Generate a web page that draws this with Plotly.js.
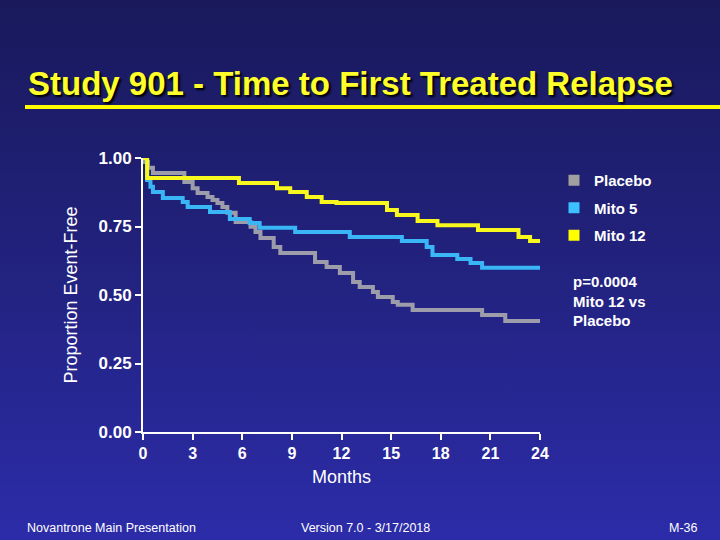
<!DOCTYPE html>
<html>
<head>
<meta charset="utf-8">
<script src="https://cdn.plot.ly/plotly-3.0.1.min.js"></script>
<style>
  html, body { margin: 0; padding: 0; width: 720px; height: 540px; overflow: hidden;
    background: linear-gradient(to bottom, #19195c 0%, #22227f 50%, #2c2ca9 100%); }
  #chart { width: 720px; height: 540px; }
</style>
</head>
<body>
<div id="chart"></div>
<script>
// ---- Data ----
const seriesNames = ["Placebo", "Mito 5", "Mito 12"];
const seriesColors = ["#9c9cab", "#3ab6f7", "#f8f81e"];
const legendColors = ["#a0a0a0", "#3cc0ff", "#ffff00"];

const monthsPlacebo = [0, 0.06, 0.3, 0.6, 2.5, 3.0, 3.3, 3.9, 4.2, 4.5, 4.8, 5.1, 5.6, 6.5, 6.8, 7.1, 7.9, 8.3, 10.4, 11.1, 11.9, 12.7, 13.1, 13.9, 14.2, 15.1, 15.4, 16.3, 20.5, 21.9, 24];
const placebo = [1.0, 0.985, 0.964, 0.945, 0.912, 0.89, 0.872, 0.858, 0.847, 0.836, 0.821, 0.80, 0.766, 0.749, 0.73, 0.708, 0.675, 0.653, 0.62, 0.602, 0.58, 0.547, 0.529, 0.511, 0.493, 0.474, 0.464, 0.445, 0.427, 0.405, 0.405];

const monthsMito5 = [0, 0.25, 0.45, 0.6, 1.2, 2.4, 2.7, 4.05, 5.25, 6.45, 7.05, 9.2, 12.5, 15.65, 17.15, 17.5, 19.0, 19.8, 20.5, 24];
const mito5 = [1.0, 0.92, 0.895, 0.876, 0.854, 0.839, 0.821, 0.803, 0.777, 0.763, 0.745, 0.73, 0.712, 0.697, 0.675, 0.646, 0.631, 0.617, 0.599, 0.599];

const monthsMito12 = [0, 0.25, 5.8, 8.1, 8.9, 9.9, 10.8, 11.7, 14.75, 15.35, 16.6, 17.8, 20.25, 22.7, 23.4, 24];
const mito12 = [1.0, 0.927, 0.909, 0.89, 0.876, 0.858, 0.839, 0.836, 0.81, 0.792, 0.77, 0.755, 0.737, 0.712, 0.697, 0.697];

const xTickVals = [0, 3, 6, 9, 12, 15, 18, 21, 24];
const yTickVals = [0, 0.25, 0.5, 0.75, 1.0];
const yTickText = ["0.00", "0.25", "0.50", "0.75", "1.00"];

const titleText = "Study 901 - Time to First Treated Relapse";
const xTitle = "Months";
const yTitle = "Proportion Event-Free";
const pValueText = "p=0.0004<br>Mito 12 vs<br>Placebo";
const footerLeft = "Novantrone Main Presentation";
const footerCenter = "Version 7.0 - 3/17/2018";
const footerRight = "M-36";

// ---- Traces ----
const xs = [monthsPlacebo, monthsMito5, monthsMito12];
const ys = [placebo, mito5, mito12];
const traces = [];
for (let i = 0; i < 3; i++) {
  traces.push({
    type: "scatter", mode: "lines", x: xs[i], y: ys[i], name: seriesNames[i],
    line: { shape: "hv", color: seriesColors[i], width: 4 },
    showlegend: false, hoverinfo: "x+y+name"
  });
}
for (let i = 0; i < 3; i++) {
  traces.push({
    type: "scatter", mode: "markers", x: [null], y: [null], name: seriesNames[i],
    legendgroup: "g" + i,
    marker: { symbol: "square", size: 11, color: legendColors[i] },
    showlegend: true
  });
}

const white = "#ffffff";
const layout = {
  width: 720, height: 540,
  paper_bgcolor: "rgba(0,0,0,0)", plot_bgcolor: "rgba(0,0,0,0)",
  margin: { l: 143, r: 180, t: 158, b: 108 },
  font: { family: "Liberation Sans, Arial, sans-serif", color: white },
  title: {
    text: titleText, xref: "container", yref: "container",
    x: 28 / 720, xanchor: "left", y: 1 - 83 / 540, yanchor: "middle",
    font: { family: "Liberation Sans, Arial, sans-serif", size: 33, weight: "bold", color: "#ffff2a",
            shadow: "2px 2px 2px #000000" }
  },
  xaxis: {
    range: [0, 24], tickvals: xTickVals, ticks: "outside", ticklen: 6, tickwidth: 2, tickcolor: white,
    showline: true, linecolor: white, linewidth: 2, showgrid: false, zeroline: false,
    ticklabelstandoff: 0,
    tickfont: { size: 16, weight: "bold", color: white },
    title: { text: xTitle, standoff: 9, font: { size: 18, color: white } },
    fixedrange: true
  },
  yaxis: {
    range: [0, 1], tickvals: yTickVals, ticktext: yTickText, ticks: "outside", ticklen: 6, tickwidth: 2,
    tickcolor: white, showline: true, linecolor: white, linewidth: 2, showgrid: false, zeroline: false,
    tickfont: { size: 17, weight: "bold", color: white },
    title: { text: yTitle, standoff: 16, font: { size: 18, color: white } },
    fixedrange: true
  },
  showlegend: true,
  legend: {
    x: (554 - 143) / 397, xanchor: "left", y: (432 - 164) / 274, yanchor: "top",
    bgcolor: "rgba(0,0,0,0)", borderwidth: 0, traceorder: "grouped", tracegroupgap: 5,
    font: { size: 15, weight: "bold", color: white }
  },
  shapes: [
    { type: "line", xref: "paper", yref: "paper",
      x0: (25 - 143) / 397, x1: (720 - 143) / 397, y0: (432 - 107) / 274, y1: (432 - 107) / 274,
      line: { color: "#ffff00", width: 4 } }
  ],
  annotations: [
    { text: pValueText, xref: "paper", yref: "paper", x: (571 - 143) / 397, xanchor: "left",
      y: (432 - 271) / 274, yanchor: "top", align: "left", showarrow: false,
      font: { size: 15, weight: "bold", color: white } },
    { text: footerLeft, xref: "paper", yref: "paper", x: (25 - 143) / 397, xanchor: "left",
      y: (432 - 528) / 274, yanchor: "middle", showarrow: false,
      font: { size: 12.5, color: white } },
    { text: footerCenter, xref: "paper", yref: "paper", x: (365 - 143) / 397, xanchor: "center",
      y: (432 - 528) / 274, yanchor: "middle", showarrow: false,
      font: { size: 12.5, color: white } },
    { text: footerRight, xref: "paper", yref: "paper", x: (700 - 143) / 397, xanchor: "right",
      y: (432 - 528) / 274, yanchor: "middle", showarrow: false,
      font: { size: 12.5, color: white } }
  ]
};

Plotly.newPlot("chart", traces, layout, { displayModeBar: false, staticPlot: true });
</script>
</body>
</html>
